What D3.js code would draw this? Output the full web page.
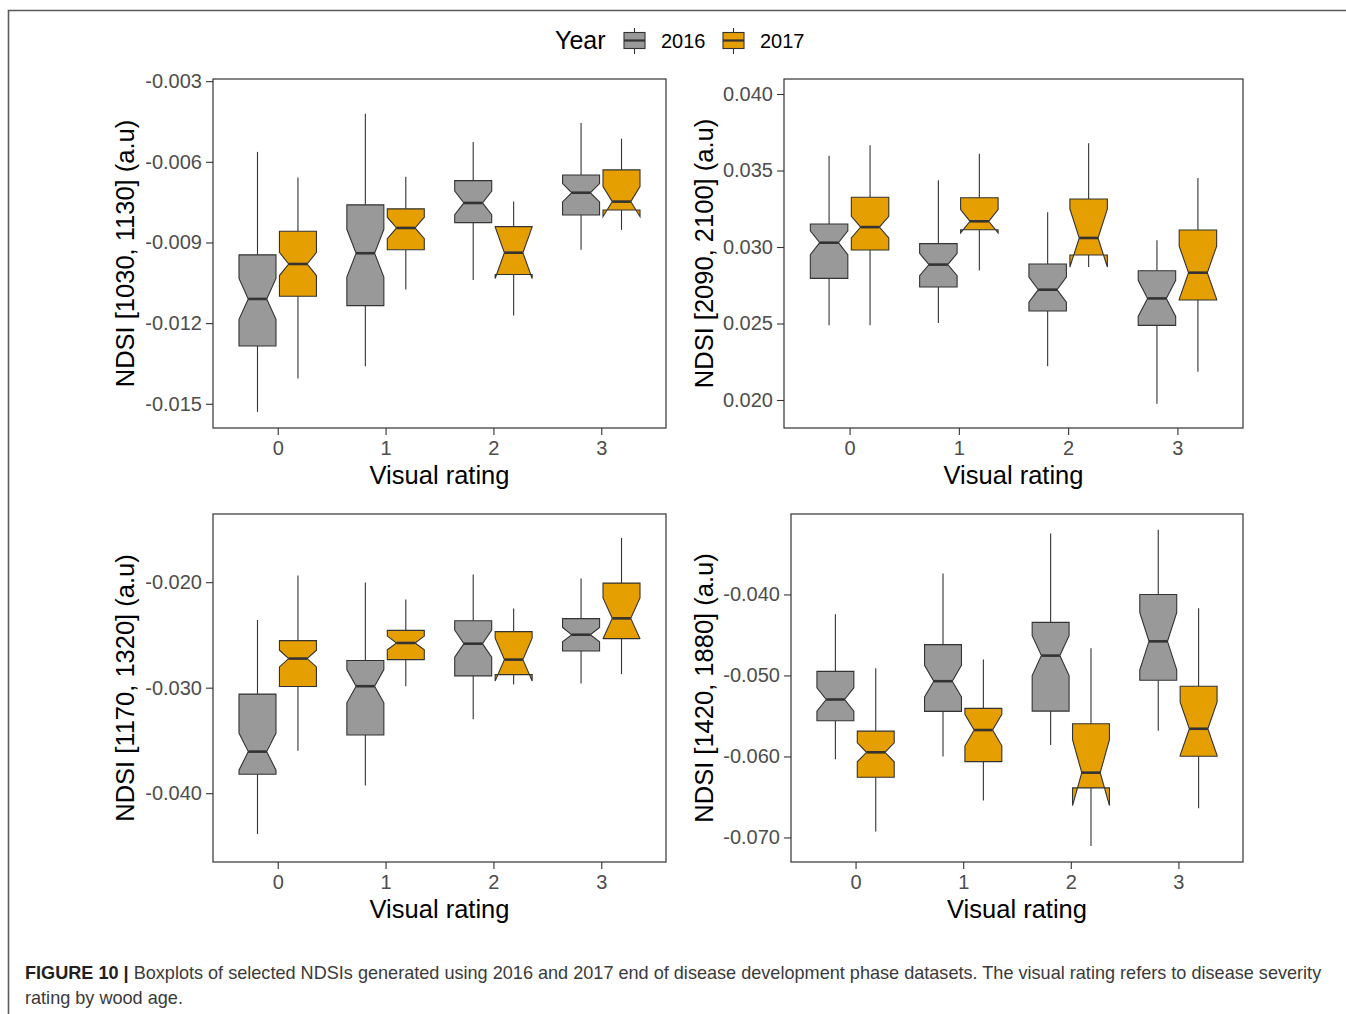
<!DOCTYPE html>
<html>
<head>
<meta charset="utf-8">
<script src="https://cdn.jsdelivr.net/npm/d3@7"></script>
<style>
  html, body { margin: 0; padding: 0; background: #fff; }
  svg { display: block; }
  text { font-family: "Liberation Sans", Arial, Helvetica, sans-serif; }
</style>
</head>
<body>
<svg id="fig" width="1346" height="1014"></svg>
<script>
// ---- data ---------------------------------------------------------------
const ratings = ["0", "1", "2", "3"];
const years = ["2016", "2017"];
const yearColors = ["#999999", "#E69F00"];

// Box statistics per visual rating:
// [lower whisker, Q1, notch low, median, notch high, Q3, upper whisker]
const ndsi1030_2016 = [
  [-0.0153, -0.01285, -0.01186, -0.0111, -0.01034, -0.00946, -0.00563],
  [-0.0136, -0.01135, -0.01029, -0.0094, -0.00851, -0.0076, -0.00421],
  [-0.0104, -0.00826, -0.00797, -0.00753, -0.00709, -0.0067, -0.00526],
  [-0.00927, -0.00798, -0.00749, -0.00715, -0.00681, -0.00649, -0.00456]
];
const ndsi1030_2017 = [
  [-0.01406, -0.0110, -0.01023, -0.0098, -0.00937, -0.00858, -0.00658],
  [-0.01075, -0.00927, -0.00886, -0.00846, -0.00806, -0.00775, -0.00656],
  [-0.01172, -0.01019, -0.01034, -0.00938, -0.00842, -0.00841, -0.00748],
  [-0.00853, -0.00779, -0.00804, -0.00748, -0.00692, -0.0063, -0.00514]
];
const ndsi2090_2016 = [
  [0.02488, 0.02795, 0.0295, 0.03028, 0.03106, 0.0315, 0.03597],
  [0.02503, 0.02739, 0.02812, 0.02885, 0.02958, 0.03022, 0.03436],
  [0.0222, 0.02582, 0.02639, 0.02721, 0.02803, 0.02889, 0.03227],
  [0.01976, 0.02488, 0.02546, 0.02664, 0.02782, 0.02845, 0.03044]
];
const ndsi2090_2017 = [
  [0.02488, 0.0298, 0.03059, 0.0313, 0.03201, 0.03325, 0.03665],
  [0.02847, 0.03113, 0.03092, 0.03168, 0.03244, 0.03322, 0.0361],
  [0.0287, 0.02948, 0.02869, 0.03059, 0.03249, 0.03314, 0.03678],
  [0.02185, 0.02654, 0.02658, 0.02832, 0.03006, 0.03111, 0.03451]
];
const ndsi1170_2016 = [
  [-0.04387, -0.0382, -0.03782, -0.03606, -0.0343, -0.03061, -0.02359],
  [-0.03928, -0.03449, -0.03143, -0.02986, -0.02829, -0.02743, -0.02003],
  [-0.0330, -0.02888, -0.02712, -0.02583, -0.02454, -0.02365, -0.01928],
  [-0.0296, -0.02652, -0.02566, -0.02498, -0.0243, -0.02346, -0.01965]
];
const ndsi1170_2017 = [
  [-0.03597, -0.02989, -0.02803, -0.02724, -0.02645, -0.02554, -0.01937],
  [-0.02986, -0.02734, -0.02641, -0.02576, -0.02511, -0.02457, -0.02164],
  [-0.0297, -0.02876, -0.02937, -0.02734, -0.02531, -0.02469, -0.02249],
  [-0.02872, -0.02535, -0.02537, -0.02343, -0.02149, -0.02009, -0.01581]
];
const ndsi1420_2016 = [
  [-0.06035, -0.05559, -0.05441, -0.05297, -0.05153, -0.0495, -0.04246],
  [-0.06002, -0.05444, -0.05266, -0.05071, -0.04876, -0.0462, -0.03741],
  [-0.05859, -0.0544, -0.05001, -0.04755, -0.04509, -0.04345, -0.03249],
  [-0.05682, -0.05059, -0.04932, -0.04579, -0.04226, -0.040, -0.032]
];
const ndsi1420_2017 = [
  [-0.06926, -0.06257, -0.06066, -0.05949, -0.05832, -0.05687, -0.04911],
  [-0.06544, -0.06064, -0.05869, -0.05674, -0.05479, -0.05407, -0.04804],
  [-0.07106, -0.06388, -0.06606, -0.062, -0.05794, -0.05596, -0.04665],
  [-0.06638, -0.05998, -0.05986, -0.05658, -0.0533, -0.05133, -0.04172]
];

// y-axis limits and ticks
const limits1030 = [-0.0159, -0.00292];
const ticks1030 = [-0.015, -0.012, -0.009, -0.006, -0.003];
const tickLabels1030 = ["-0.015", "-0.012", "-0.009", "-0.006", "-0.003"];
const limits2090 = [0.01817, 0.04098];
const ticks2090 = [0.020, 0.025, 0.030, 0.035, 0.040];
const tickLabels2090 = ["0.020", "0.025", "0.030", "0.035", "0.040"];
const limits1170 = [-0.04652, -0.01354];
const ticks1170 = [-0.040, -0.030, -0.020];
const tickLabels1170 = ["-0.040", "-0.030", "-0.020"];
const limits1420 = [-0.07303, -0.03007];
const ticks1420 = [-0.070, -0.060, -0.050, -0.040];
const tickLabels1420 = ["-0.070", "-0.060", "-0.050", "-0.040"];

const yTitles = ["NDSI [1030, 1130] (a.u)", "NDSI [2090, 2100] (a.u)",
                 "NDSI [1170, 1320] (a.u)", "NDSI [1420, 1880] (a.u)"];
const xTitle = "Visual rating";
const legendTitle = "Year";
const captionLead = "FIGURE 10 |";
const captionLine1 = " Boxplots of selected NDSIs generated using 2016 and 2017 end of disease development phase datasets. The visual rating refers to disease severity";
const captionLine2 = "rating by wood age.";

// ---- layout ---------------------------------------------------------------
const panels = [
  { title: yTitles[0], series: [ndsi1030_2016, ndsi1030_2017], limits: limits1030,
    ticks: ticks1030, labels: tickLabels1030, box: { x0: 213, x1: 666, y0: 79, y1: 428 }, titleX: 134 },
  { title: yTitles[1], series: [ndsi2090_2016, ndsi2090_2017], limits: limits2090,
    ticks: ticks2090, labels: tickLabels2090, box: { x0: 784, x1: 1243, y0: 79, y1: 428 }, titleX: 713 },
  { title: yTitles[2], series: [ndsi1170_2016, ndsi1170_2017], limits: limits1170,
    ticks: ticks1170, labels: tickLabels1170, box: { x0: 213, x1: 666, y0: 514, y1: 862 }, titleX: 134 },
  { title: yTitles[3], series: [ndsi1420_2016, ndsi1420_2017], limits: limits1420,
    ticks: ticks1420, labels: tickLabels1420, box: { x0: 791, x1: 1243, y0: 514, y1: 862 }, titleX: 713 }
];

const INK = "#333333";
const TICK_TEXT = "#4d4d4d";
const svg = d3.select("#fig");

svg.append("rect").attr("width", 1346).attr("height", 1014).attr("fill", "#fff");

// figure frame (top and left rules)
svg.append("path")
  .attr("d", "M8.5,1014 V10.5 H1346")
  .attr("fill", "none").attr("stroke", "#5a5a5a").attr("stroke-width", 1.6);

// notched box outline, ggplot-style (notch narrows to half the box width)
function notchPath(x0, x1, s, y) {
  const [, q1, nlo, med, nhi, q3] = s;
  const ind = (x1 - x0) * 0.25;
  const pts = [
    [x0, y(q3)], [x0, y(nhi)], [x0 + ind, y(med)], [x0, y(nlo)], [x0, y(q1)],
    [x1, y(q1)], [x1, y(nlo)], [x1 - ind, y(med)], [x1, y(nhi)], [x1, y(q3)]
  ];
  return d3.line()(pts) + "Z";
}

panels.forEach(p => {
  const b = p.box;
  const g = svg.append("g");
  const x = d3.scalePoint().domain(ratings).range([b.x0, b.x1]).padding(0.6);
  const y = d3.scaleLinear().domain(p.limits).range([b.y1, b.y0]);
  const step = x.step();
  const bw = step * 0.343;
  const off = step * 0.1875;

  years.forEach((yr, i) => {
    const gy = g.append("g").attr("class", "year-" + yr);
    p.series[i].forEach((s, j) => {
      const cx = x(ratings[j]) + (i === 0 ? -off : off);
      const x0 = cx - bw / 2, x1 = cx + bw / 2;
      // whiskers
      gy.append("line").attr("x1", cx).attr("x2", cx)
        .attr("y1", y(s[5])).attr("y2", y(s[6]))
        .attr("stroke", INK).attr("stroke-width", 1.1);
      gy.append("line").attr("x1", cx).attr("x2", cx)
        .attr("y1", y(s[1])).attr("y2", y(s[0]))
        .attr("stroke", INK).attr("stroke-width", 1.1);
      // box
      gy.append("path").attr("d", notchPath(x0, x1, s, y))
        .attr("fill", yearColors[i]).attr("stroke", INK)
        .attr("stroke-width", 1.1).attr("stroke-linejoin", "miter");
      // median
      const ind = bw * 0.25;
      gy.append("line").attr("x1", x0 + ind).attr("x2", x1 - ind)
        .attr("y1", y(s[3])).attr("y2", y(s[3]))
        .attr("stroke", INK).attr("stroke-width", 2.6);
    });
  });

  // panel border
  g.append("rect").attr("x", b.x0).attr("y", b.y0)
    .attr("width", b.x1 - b.x0).attr("height", b.y1 - b.y0)
    .attr("fill", "none").attr("stroke", INK).attr("stroke-width", 1.2);

  // y axis
  const ya = g.append("g").attr("transform", `translate(${b.x0},0)`)
    .call(d3.axisLeft(y).tickValues(p.ticks)
      .tickFormat((d, i) => p.labels[i]).tickSize(7).tickPadding(4));
  ya.select(".domain").remove();
  ya.selectAll(".tick line").attr("stroke", INK).attr("stroke-width", 1.1);
  ya.selectAll(".tick text").attr("fill", TICK_TEXT)
    .style("font-size", "20px").style("font-family", "Liberation Sans, Arial, sans-serif");

  // x axis
  const xa = g.append("g").attr("transform", `translate(0,${b.y1})`)
    .call(d3.axisBottom(x).tickSize(7).tickPadding(6));
  xa.select(".domain").remove();
  xa.selectAll(".tick line").attr("stroke", INK).attr("stroke-width", 1.1);
  xa.selectAll(".tick text").attr("fill", TICK_TEXT)
    .style("font-size", "20px").style("font-family", "Liberation Sans, Arial, sans-serif");

  // axis titles
  g.append("text").attr("x", (b.x0 + b.x1) / 2).attr("y", b.y1 + 56)
    .attr("text-anchor", "middle").style("font-size", "25.5px").attr("fill", "#000")
    .text(xTitle);
  g.append("text")
    .attr("transform", `translate(${p.titleX},${(b.y0 + b.y1) / 2}) rotate(-90)`)
    .attr("text-anchor", "middle").style("font-size", "25.5px").attr("fill", "#000")
    .text(p.title);
});

// ---- legend ---------------------------------------------------------------
const lg = svg.append("g");
lg.append("text").attr("x", 555).attr("y", 49).style("font-size", "25px")
  .attr("fill", "#000").text(legendTitle);
const keyX = [624, 723];
const labX = [661, 760];
years.forEach((yr, i) => {
  const kx = keyX[i], kw = 21, cx = kx + kw / 2;
  lg.append("line").attr("x1", cx).attr("x2", cx).attr("y1", 28).attr("y2", 54)
    .attr("stroke", INK).attr("stroke-width", 1.1);
  lg.append("rect").attr("x", kx).attr("y", 32.5).attr("width", kw).attr("height", 16)
    .attr("fill", yearColors[i]).attr("stroke", INK).attr("stroke-width", 1.1);
  lg.append("line").attr("x1", kx).attr("x2", kx + kw).attr("y1", 40.5).attr("y2", 40.5)
    .attr("stroke", INK).attr("stroke-width", 2.2);
  lg.append("text").attr("x", labX[i]).attr("y", 47.5).style("font-size", "20px")
    .attr("fill", "#000").text(yr);
});

// ---- caption --------------------------------------------------------------
const cap = svg.append("text").attr("x", 25).attr("y", 979)
  .style("font-size", "18.1px").attr("fill", "#3a3a3a");
cap.append("tspan").style("font-weight", "bold").attr("fill", "#231f20").text(captionLead);
cap.append("tspan").text(captionLine1);
svg.append("text").attr("x", 25).attr("y", 1004)
  .style("font-size", "18.1px").attr("fill", "#3a3a3a").text(captionLine2);
</script>
</body>
</html>
